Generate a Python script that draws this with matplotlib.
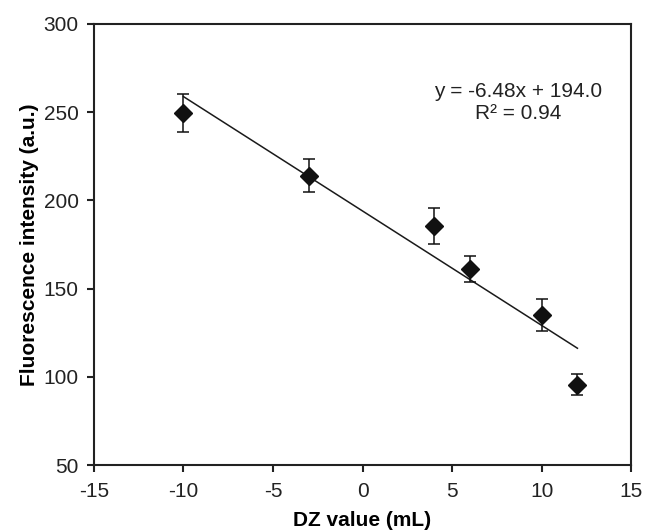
import numpy as np
import matplotlib
matplotlib.use("Agg")
import matplotlib.pyplot as plt

plt.rcParams['font.family'] = ['Liberation Sans', 'DejaVu Sans']
plt.rcParams['axes.unicode_minus'] = False

# DZ value vs fluorescence readings
dz = [-10, -3, 4, 6, 10, 12]
intensity = [249.5, 214.0, 185.5, 161.0, 135.0, 95.5]
err = [10.5, 9.5, 10.0, 7.5, 9.0, 6.0]

slope = -6.48
intercept = 194.0
r2 = 0.94

fig = plt.figure(figsize=(6.48, 5.31), dpi=100)
ax = fig.add_axes([0.145, 0.124, 0.829, 0.831])

xfit = np.array([min(dz), max(dz)])
ax.plot(xfit, slope * xfit + intercept, color='#1a1a1a', linewidth=1.1, zorder=2)

ax.errorbar(dz, intensity, yerr=err, fmt='D', color='#111111', markersize=9,
            ecolor='#111111', elinewidth=1.1, capsize=4, capthick=1.1, zorder=3)

ax.text(0.79, 0.822, f"y = {slope:.2f}x + {intercept:.1f}\nR\u00b2 = {r2:.2f}",
        transform=ax.transAxes, ha='center', va='center', fontsize=15,
        linespacing=1.2, color='#222222')

ax.set_xlim(-15, 15)
ax.set_ylim(50, 300)
ax.set_xticks(range(-15, 16, 5))
ax.set_yticks(range(50, 301, 50))

for s in ax.spines.values():
    s.set_linewidth(1.5)
    s.set_color('#222222')
ax.tick_params(direction='out', length=5, width=1.5, labelsize=15, colors='#222222')
ax.tick_params(axis='x', pad=7)
ax.tick_params(axis='y', pad=6)

ax.set_xlabel('DZ value (mL)', fontsize=15, fontweight='bold', labelpad=7)
ax.set_ylabel('Fluorescence intensity (a.u.)', fontsize=15, fontweight='bold', labelpad=3)

fig.savefig('out.png', dpi=100)
